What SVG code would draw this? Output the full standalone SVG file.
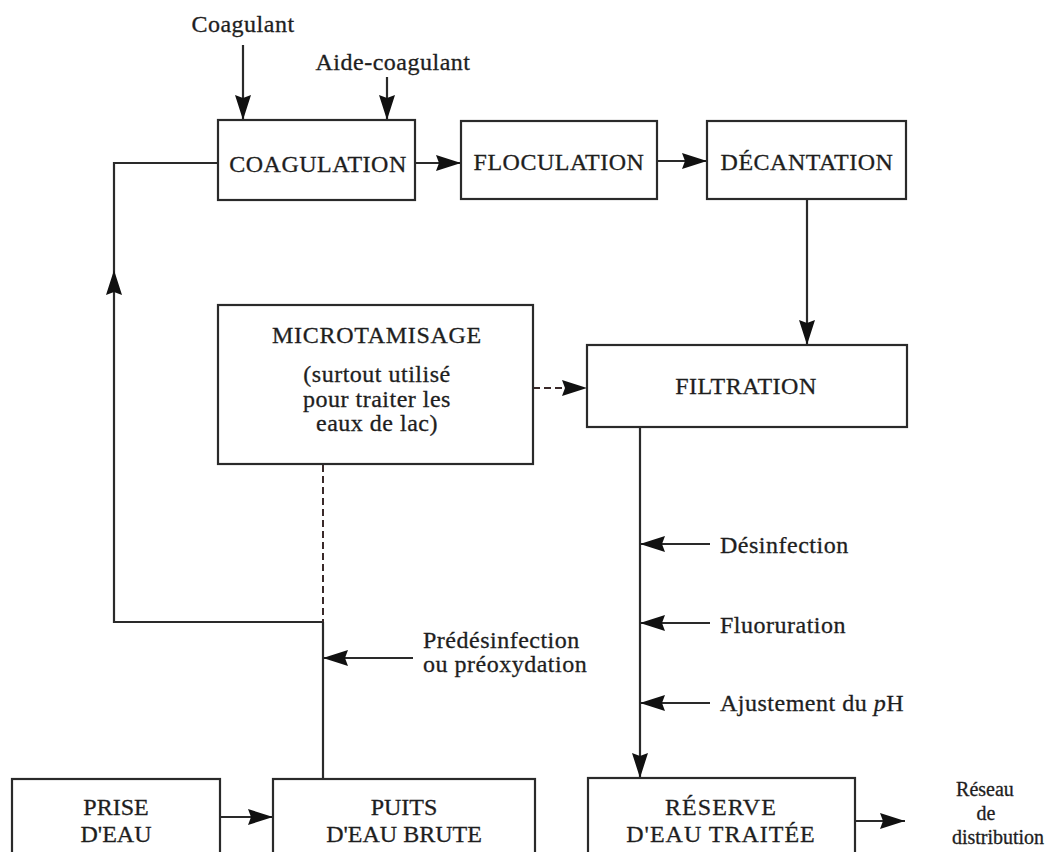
<svg xmlns="http://www.w3.org/2000/svg" width="1048" height="852" viewBox="0 0 1048 852">
<style>
  .box { fill: #fff; stroke: #2a2a2a; stroke-width: 2.2; }
  .ln { fill: none; stroke: #2a2a2a; stroke-width: 2.2; }
  .dash { fill: none; stroke: #3a2a2a; stroke-width: 2; stroke-dasharray: 7 4; }
  .cap { font-family: "Liberation Serif", "Times New Roman", serif; font-size: 24px; fill: #1e1e1e; stroke: #1e1e1e; stroke-width: 0.3px; letter-spacing: 0.5px; text-anchor: middle; }
  .lbl { font-family: "Liberation Serif", "Times New Roman", serif; font-size: 24px; fill: #1e1e1e; stroke: #1e1e1e; stroke-width: 0.3px; letter-spacing: 0.5px; }
  .mid { text-anchor: middle; }
  .head { fill: #111; }
</style>
<defs>
  <marker id="ah" markerUnits="userSpaceOnUse" markerWidth="28" markerHeight="18" refX="25" refY="8" orient="auto">
    <path d="M0,0 L25,8 L0,16 L3,8 z" class="head"/>
  </marker>
</defs>
<rect width="1048" height="852" fill="#fff"/>

<g id="connectors">
  <line class="ln" x1="243" y1="45" x2="243" y2="120" marker-end="url(#ah)"/>
  <line class="ln" x1="387" y1="77" x2="387" y2="120" marker-end="url(#ah)"/>
  <line class="ln" x1="415" y1="163" x2="461" y2="163" marker-end="url(#ah)"/>
  <line class="ln" x1="657" y1="161" x2="707" y2="161" marker-end="url(#ah)"/>
  <line class="ln" x1="807" y1="199" x2="807" y2="345" marker-end="url(#ah)"/>
  <line class="dash" x1="533" y1="388" x2="587" y2="388" marker-end="url(#ah)"/>
  <polyline class="ln" points="218,163 114,163 114,622 323,622"/>
  <path class="head" d="M114,270 L122,295 L114,292 L106,295 z"/>
  <line class="dash" x1="323" y1="465" x2="323" y2="622"/>
  <line class="ln" x1="323" y1="622" x2="323" y2="779"/>
  <line class="ln" x1="413" y1="658" x2="323" y2="658" marker-end="url(#ah)"/>
  <line class="ln" x1="640" y1="428" x2="640" y2="778" marker-end="url(#ah)"/>
  <line class="ln" x1="710" y1="544" x2="640" y2="544" marker-end="url(#ah)"/>
  <line class="ln" x1="710" y1="623" x2="640" y2="623" marker-end="url(#ah)"/>
  <line class="ln" x1="710" y1="703" x2="640" y2="703" marker-end="url(#ah)"/>
  <line class="ln" x1="220" y1="817" x2="273" y2="817" marker-end="url(#ah)"/>
  <line class="ln" x1="855" y1="821" x2="905" y2="821" marker-end="url(#ah)"/>
</g>

<g id="labels">
  <text class="lbl mid" x="243" y="32">Coagulant</text>
  <text class="lbl mid" x="393" y="70">Aide-coagulant</text>
  <text class="lbl" x="423" y="648">Prédésinfection</text>
  <text class="lbl" x="423" y="672">ou préoxydation</text>
  <text class="lbl" x="720" y="553">Désinfection</text>
  <text class="lbl" x="720" y="633">Fluoruration</text>
  <text class="lbl" x="720" y="711">Ajustement du <tspan font-style="italic">p</tspan>H</text>
  <text class="lbl mid" x="985" y="796" style="font-size:20px;letter-spacing:0">Réseau</text>
  <text class="lbl mid" x="986" y="820" style="font-size:20px;letter-spacing:0">de</text>
  <text class="lbl mid" x="998" y="844" style="font-size:20px;letter-spacing:0">distribution</text>
</g>

<g id="coagulation">
  <rect class="box" x="218" y="120" width="197" height="80"/>
  <text class="cap" x="318" y="172">COAGULATION</text>
</g>
<g id="floculation">
  <rect class="box" x="461" y="121" width="196" height="78"/>
  <text class="cap" x="559" y="170">FLOCULATION</text>
</g>
<g id="decantation">
  <rect class="box" x="707" y="121" width="199" height="78"/>
  <text class="cap" x="807" y="170">DÉCANTATION</text>
</g>
<g id="microtamisage">
  <rect class="box" x="218" y="305" width="315" height="159"/>
  <text class="cap" x="377" y="343" style="letter-spacing:0.7px">MICROTAMISAGE</text>
  <text class="lbl mid" x="377" y="382">(surtout utilisé</text>
  <text class="lbl mid" x="377" y="407">pour traiter les</text>
  <text class="lbl mid" x="377" y="431">eaux de lac)</text>
</g>
<g id="filtration">
  <rect class="box" x="587" y="345" width="320" height="82"/>
  <text class="cap" x="746" y="394">FILTRATION</text>
</g>
<g id="prise">
  <rect class="box" x="12" y="779" width="208" height="90"/>
  <text class="cap" x="116" y="815" style="letter-spacing:0">PRISE</text>
  <text class="cap" x="116" y="842" style="letter-spacing:0">D'EAU</text>
</g>
<g id="puits">
  <rect class="box" x="273" y="779" width="262" height="90"/>
  <text class="cap" x="404" y="815" style="letter-spacing:0">PUITS</text>
  <text class="cap" x="404" y="842" style="letter-spacing:0">D'EAU BRUTE</text>
</g>
<g id="reserve">
  <rect class="box" x="588" y="778" width="267" height="90"/>
  <text class="cap" x="721" y="815" style="letter-spacing:1px">RÉSERVE</text>
  <text class="cap" x="721" y="842" style="letter-spacing:1px">D'EAU TRAITÉE</text>
</g>
</svg>
